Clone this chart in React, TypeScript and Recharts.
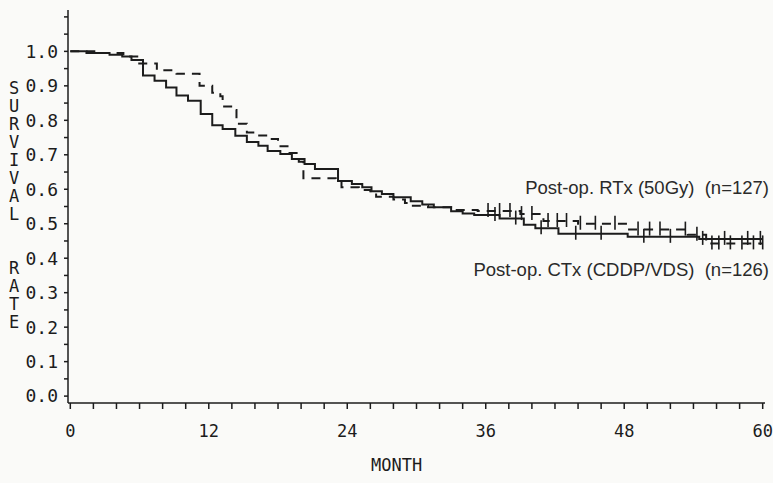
import React from 'react';
import { ComposedChart, Line, Scatter, XAxis, YAxis } from 'recharts';

// Kaplan-Meier step points (month, survival)
const ctxMonths = [0, 1.4, 3.4, 4.5, 5.3, 6.3, 7.3, 8.3, 9.2, 10.2, 11.3, 12.3, 13.2, 14.3, 15.3, 16.3, 17.1, 18.2, 19.2, 20.3, 21.2, 23.2, 24.4, 25.3, 26.1, 27.0, 28.0, 29.5, 30.5, 31.5, 33.0, 34.0, 35.0, 37.2, 39.3, 40.3, 42.3, 48.3, 54.5, 60];
const ctxSurv = [1.0, 0.995, 0.99, 0.985, 0.975, 0.93, 0.915, 0.895, 0.872, 0.857, 0.818, 0.786, 0.775, 0.755, 0.737, 0.726, 0.711, 0.702, 0.688, 0.673, 0.659, 0.624, 0.615, 0.606, 0.594, 0.586, 0.577, 0.565, 0.556, 0.548, 0.536, 0.53, 0.525, 0.515, 0.497, 0.487, 0.471, 0.462, 0.456, 0.456];

const rtxMonths = [0, 2.5, 4.6, 5.8, 7.5, 9.2, 11.2, 12.3, 13.0, 13.2, 14.2, 14.4, 15.3, 16.0, 17.1, 18.0, 19.0, 19.8, 20.2, 23.0, 23.5, 25.0, 26.0, 26.5, 28.0, 29.0, 29.5, 31.0, 33.0, 35.3, 39.0, 41.0, 44.0, 48.3, 53.5, 55.1, 60];
const rtxSurv = [1.0, 0.995, 0.985, 0.965, 0.945, 0.935, 0.9, 0.88, 0.87, 0.84, 0.83, 0.79, 0.765, 0.756, 0.746, 0.725, 0.705, 0.68, 0.632, 0.624, 0.606, 0.598, 0.59, 0.578, 0.57, 0.56, 0.552, 0.548, 0.54, 0.537, 0.528, 0.508, 0.5, 0.483, 0.468, 0.443, 0.443];

// censored observations (months)
const rtxCensored = [36.2, 37.2, 38.1, 39.1, 40.0, 41.4, 42.2, 43.0, 44.2, 45.5, 47.2, 49.2, 50.2, 51.1, 53.3, 54.3, 55.6, 56.2, 57.2, 58.2, 59.2, 60.0];
const ctxCensored = [36.8, 38.6, 40.8, 43.8, 46.0, 49.7, 52.0, 54.8, 56.7, 58.7, 59.8];

const xTicks = [0, 2, 4, 6, 8, 10, 12, 14, 16, 18, 20, 22, 24, 26, 28, 30, 32, 34, 36, 38, 40, 42, 44, 46, 48, 50, 52, 54, 56, 58, 60];
const yTicks = [0, 0.05, 0.1, 0.15, 0.2, 0.25, 0.3, 0.35, 0.4, 0.45, 0.5, 0.55, 0.6, 0.65, 0.7, 0.75, 0.8, 0.85, 0.9, 0.95, 1.0, 1.05, 1.1];

const ctxData = ctxMonths.map((t, i) => ({ t, s: ctxSurv[i] }));
const rtxData = rtxMonths.map((t, i) => ({ t, s: rtxSurv[i] }));

// survival value of a step curve at month m
const stepAt = (months: number[], surv: number[], m: number) => {
  let v = surv[0];
  months.forEach((t, i) => { if (t <= m) v = surv[i]; });
  return v;
};
const rtxCensorData = rtxCensored.map((t) => ({ t, s: stepAt(rtxMonths, rtxSurv, t) }));
const ctxCensorData = ctxCensored.map((t) => ({ t, s: stepAt(ctxMonths, ctxSurv, t) }));

const ink = '#1c1c1c';
const plotFont = '"DejaVu Sans Mono", monospace';
const labelFont = '"Liberation Sans", Arial, sans-serif';

const CensorTick = (props: any) => {
  const { cx, cy } = props;
  if (cx == null || cy == null) return null;
  return <line x1={cx} x2={cx} y1={cy - 8} y2={cy + 6} stroke={ink} strokeWidth={1.6} />;
};

const App: React.FC = () => {
  return (
    <div style={{ position: 'absolute', left: 0, top: 0, width: 773, height: 483, background: '#fafaf8' }}>
      <ComposedChart width={773} height={483} margin={{ top: 10, right: 8, bottom: 8, left: 8 }}>
        <XAxis
          type="number"
          dataKey="t"
          domain={[-0.2, 60.2]}
          ticks={xTicks}
          interval={0}
          allowDataOverflow
          tickFormatter={(v: number) => (v % 12 === 0 ? String(v) : '')}
          tickSize={6}
          tickMargin={16}
          height={72}
          stroke={ink}
          strokeWidth={1.5}
          tick={{ fill: ink, fontFamily: plotFont, fontSize: 17 }}
        />
        <YAxis
          type="number"
          dataKey="s"
          domain={[-0.02, 1.12]}
          ticks={yTicks}
          interval={0}
          allowDataOverflow
          tickFormatter={(v: number) => {
            const r = Math.round(v * 100);
            return r % 10 === 0 && r <= 100 ? v.toFixed(1) : '';
          }}
          tickSize={4}
          tickMargin={6}
          width={60}
          stroke={ink}
          strokeWidth={1.5}
          tick={{ fill: ink, fontFamily: plotFont, fontSize: 18 }}
        />
        <Line
          data={rtxData}
          dataKey="s"
          type="stepAfter"
          stroke={ink}
          strokeWidth={2}
          strokeDasharray="9 7"
          dot={false}
          activeDot={false}
          isAnimationActive={false}
        />
        <Line
          data={ctxData}
          dataKey="s"
          type="stepAfter"
          stroke={ink}
          strokeWidth={2}
          dot={false}
          activeDot={false}
          isAnimationActive={false}
        />
        <Scatter data={rtxCensorData} dataKey="s" shape={CensorTick} isAnimationActive={false} />
        <Scatter data={ctxCensorData} dataKey="s" shape={CensorTick} isAnimationActive={false} />
      </ComposedChart>

      {/* axis titles */}
      <div
        style={{
          position: 'absolute', left: 5, top: 79, width: 18, textAlign: 'center',
          fontFamily: plotFont, fontSize: 17, lineHeight: '18px', color: ink, whiteSpace: 'pre',
        }}
      >
        {'SURVIVAL  RATE'.split('').map((c, i) => (
          <div key={i} style={{ height: 18 }}>{c}</div>
        ))}
      </div>
      <div
        style={{
          position: 'absolute', left: 371, top: 455, fontFamily: plotFont, fontSize: 17, color: ink,
        }}
      >
        MONTH
      </div>

      {/* series labels */}
      <div
        style={{
          position: 'absolute', right: 4, top: 177, fontFamily: labelFont,
          fontSize: 18.5, color: '#2a2a2a', whiteSpace: 'pre',
        }}
      >
        {'Post-op. RTx (50Gy)  (n=127)'}
      </div>
      <div
        style={{
          position: 'absolute', right: 4, top: 259, fontFamily: labelFont,
          fontSize: 18.5, color: '#2a2a2a', whiteSpace: 'pre',
        }}
      >
        {'Post-op. CTx (CDDP/VDS)  (n=126)'}
      </div>
    </div>
  );
};

export default App;
